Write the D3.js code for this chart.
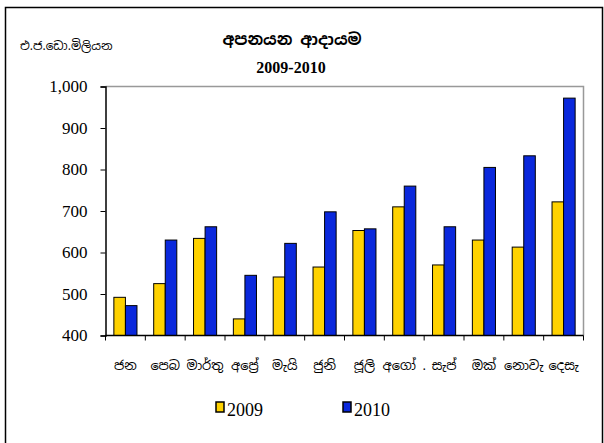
<!DOCTYPE html>
<html>
<head>
	<meta charset="utf-8">
	<title>export earnings</title>
	<style type="text/css">
		body { margin: 0; background: #fff; }
		text { font-family: "Liberation Serif", "Times New Roman", serif; }
		.si { font-family: "Noto Sans Sinhala", "Iskoola Pota", "Noto Serif Sinhala", "Liberation Serif", serif; }
	</style>
</head>
<body>
<script src="https://cdn.jsdelivr.net/npm/d3@7/dist/d3.min.js"></script>
<script type="text/javascript">
	// data
	var months = ["ජන", "පෙබ", "මාර්තු", "අප්‍රේ", "මැයි", "ජුනි", "ජූලි", "අගෝ .", "සැප්", "ඔක්", "නොවැ", "දෙසැ"];
	var val2009 = [492, 525, 634, 440, 541, 565, 653, 710, 570, 630, 613, 722];
	var val2010 = [472, 630, 662, 545, 622, 698, 657, 760, 662, 805, 833, 972];
	var seriesNames = ["2009", "2010"];
	var yTicks = [400, 500, 600, 700, 800, 900, 1000];

	var colors = ["#ffd200", "#0a28dc"];

	var w = 604, h = 443;
	var pLeft = 105.5, pRight = 583.5, pTop = 86.5, pBottom = 335.5;

	var svg = d3.select("body").append("svg").attr("width", w).attr("height", h);

	// outer frame (no bottom edge visible)
	svg.append("path")
		.attr("d", "M5.5," + h + "V7.5H602.5V" + h)
		.attr("fill", "none").attr("stroke", "#000").attr("stroke-width", 1.5);

	var x = d3.scaleBand().domain(months).range([pLeft, pRight]).paddingInner(0.42).paddingOuter(0.21);
	var x1 = d3.scaleBand().domain(seriesNames).range([0, x.bandwidth()]);
	var y = d3.scaleLinear().domain([400, 1000]).range([pBottom, pTop]);

	// plot frame: grey top/right
	svg.append("path")
		.attr("d", "M" + pLeft + "," + pTop + "H" + pRight + "V" + pBottom)
		.attr("fill", "none").attr("stroke", "#999").attr("stroke-width", 1.5);

	// bars
	var groups = svg.selectAll("g.month")
		.data(months)
		.enter().append("g")
		.attr("class", "month")
		.attr("transform", function(d) { return "translate(" + x(d) + ",0)"; });

	groups.selectAll("rect")
		.data(function(d, i) { return [val2009[i], val2010[i]]; })
		.enter().append("rect")
		.attr("x", function(d, j) { return x1(seriesNames[j]); })
		.attr("y", function(d) { return y(d); })
		.attr("width", x1.bandwidth())
		.attr("height", function(d) { return y(400) - y(d); })
		.attr("fill", function(d, j) { return colors[j]; })
		.attr("stroke", "#000").attr("stroke-width", 1);

	// y axis
	var yAxis = d3.axisLeft(y).tickValues(yTicks).tickSize(5).tickFormat(d3.format(","));
	var ya = svg.append("g").attr("transform", "translate(" + pLeft + ",0)").call(yAxis);
	ya.select(".domain").attr("stroke", "#000").attr("stroke-width", 1.5);
	ya.selectAll(".tick line").attr("stroke", "#000");
	ya.selectAll(".tick text").attr("x", -18).attr("font-size", 17)
		.attr("font-family", "Liberation Serif").attr("fill", "#000");

	// x axis: ticks at band borders
	var xa = svg.append("g").attr("transform", "translate(0," + pBottom + ")");
	xa.append("line").attr("x1", pLeft).attr("x2", pRight).attr("stroke", "#000").attr("stroke-width", 1.5);
	var step = x.step();
	xa.selectAll("line.tk")
		.data(d3.range(months.length + 1))
		.enter().append("line")
		.attr("class", "tk")
		.attr("x1", function(i) { return pLeft + i * step; })
		.attr("x2", function(i) { return pLeft + i * step; })
		.attr("y1", 0).attr("y2", 5)
		.attr("stroke", "#000");
	xa.selectAll("text")
		.data(months)
		.enter().append("text")
		.attr("class", "si")
		.attr("x", function(d) { return x(d) + x.bandwidth() / 2; })
		.attr("y", 34)
		.attr("text-anchor", "middle")
		.attr("font-size", 13)
		.text(function(d) { return d; });

	// titles
	svg.append("text").attr("class", "si")
		.attr("x", 292).attr("y", 45).attr("text-anchor", "middle")
		.attr("font-size", 16).attr("font-weight", "bold")
		.text("අපනයන ආදායම");
	svg.append("text")
		.attr("x", 291).attr("y", 73).attr("text-anchor", "middle")
		.attr("font-size", 16).attr("font-weight", "bold")
		.text("2009-2010");
	svg.append("text").attr("class", "si")
		.attr("x", 20).attr("y", 50)
		.attr("font-size", 12)
		.text("එ.ජ.ඩො.මිලියන");

	// legend
	var legX = [216, 343];
	var leg = svg.selectAll("g.leg")
		.data(seriesNames)
		.enter().append("g")
		.attr("class", "leg")
		.attr("transform", function(d, i) { return "translate(" + legX[i] + ",402)"; });
	leg.append("rect")
		.attr("width", 8).attr("height", 10)
		.attr("fill", function(d, i) { return colors[i]; })
		.attr("stroke", "#000").attr("stroke-width", 1.5);
	leg.append("text")
		.attr("x", 11).attr("y", 14)
		.attr("font-size", 18)
		.text(function(d) { return d; });
</script>
</body>
</html>
